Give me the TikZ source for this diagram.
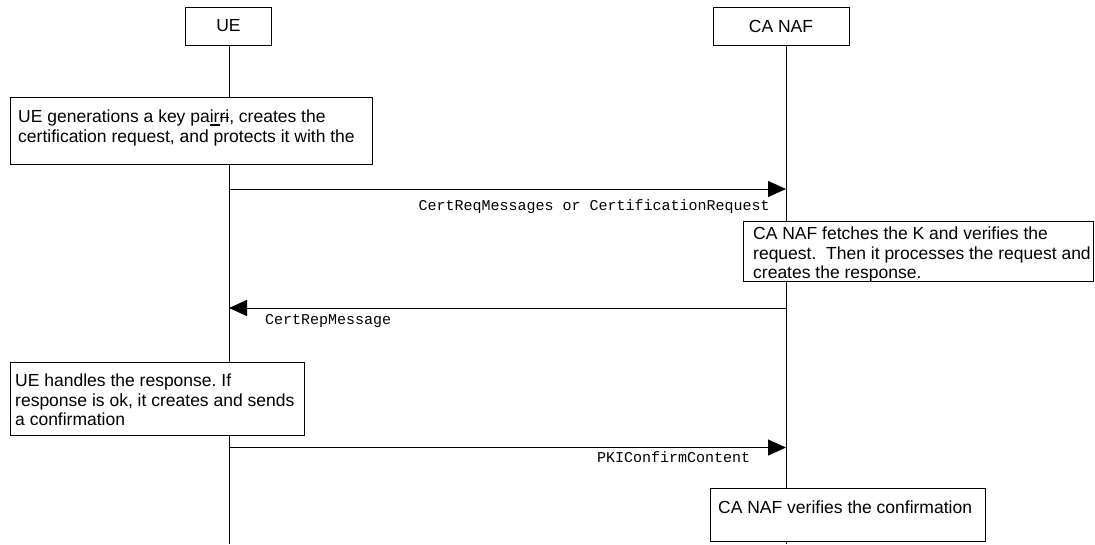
\documentclass[tikz,border=0pt]{standalone}
\usepackage{fontspec}
\setmainfont{Liberation Sans}
\setmonofont{Liberation Mono}
\usetikzlibrary{arrows.meta}
\frenchspacing
\newcommand\mystrike[1]{\setbox0\hbox{#1}\rlap{\rule[0.27em]{\wd0}{0.07em}}\box0}
\newcommand\myunder[1]{\setbox0\hbox{#1}\rlap{\rule[-0.15em]{\wd0}{0.09em}}\box0}
\begin{document}
\begin{tikzpicture}[x=1pt,y=-1pt,
  headbox/.style={draw, line width=1pt, fill=white, minimum height=38pt, inner sep=0pt, font=\fontsize{17.5}{20}\selectfont},
  actbox/.style={draw, fill=white, line width=1pt, inner sep=0pt, anchor=north west},
  acttext/.style={inner sep=0pt, anchor=north west, align=left, font=\fontsize{17.5}{19.3}\selectfont},
  msglabel/.style={inner sep=0pt, font=\fontsize{15}{15}\selectfont\ttfamily},
  msg/.style={-{Triangle[length=18pt,width=16pt]}, line width=1pt},
  life/.style={line width=1pt}]
\useasboundingbox (0,0) rectangle (1095,544);
% headers
\node[headbox, minimum width=86pt] (ue) at (228.5,26) {UE};
\node[headbox, minimum width=136pt] (ca) at (781,26) {CA NAF};
% lifelines
\coordinate (uetop) at (229,45);
\coordinate (uebot) at (229,544);
\coordinate (catop) at (786,45);
\coordinate (cabot) at (786,544);
\draw[life] (uetop) -- (uebot);
\draw[life] (catop) -- (cabot);
% message end points
\coordinate (m1s) at (229,189);
\coordinate (m1e) at (786,189);
\coordinate (m2s) at (786,308);
\coordinate (m2e) at (229,308);
\coordinate (m3s) at (229,447.5);
\coordinate (m3e) at (786,447.5);
\draw[msg] (m1s) -- (m1e);
\draw[msg] (m2s) -- (m2e);
\draw[msg] (m3s) -- (m3e);
% labels
\node[msglabel, anchor=base east] (l1) at (770,210) {CertReqMessages or CertificationRequest};
\node[msglabel, anchor=base west] (l2) at (265,324) {CertRepMessage};
\node[msglabel, anchor=base west] (l3) at (597,462) {PKIConfirmContent};
% activity boxes
\node[actbox, minimum width=362pt, minimum height=67pt] (b1) at (10,97) {};
\node[acttext] (t1) at (18,110) {UE generations a key pa\myunder{ir}\mystrike{ri}, creates the\\certification request, and protects it with the};
\node[actbox, minimum width=350pt, minimum height=60pt] (b2) at (743,221) {};
\node[acttext] (t2) at (753,227) {CA NAF fetches the K and verifies the\\request.\ \ Then it processes the request and\\creates the response.};
\node[actbox, minimum width=294pt, minimum height=73pt] (b3) at (10,362) {};
\node[acttext] (t3) at (15,374) {UE handles the response. If\\response is ok, it creates and sends\\a confirmation};
\node[actbox, minimum width=275pt, minimum height=53pt] (b4) at (710,488) {};
\node[acttext] (t4) at (718,501) {CA NAF verifies the confirmation};
\end{tikzpicture}
\end{document}
